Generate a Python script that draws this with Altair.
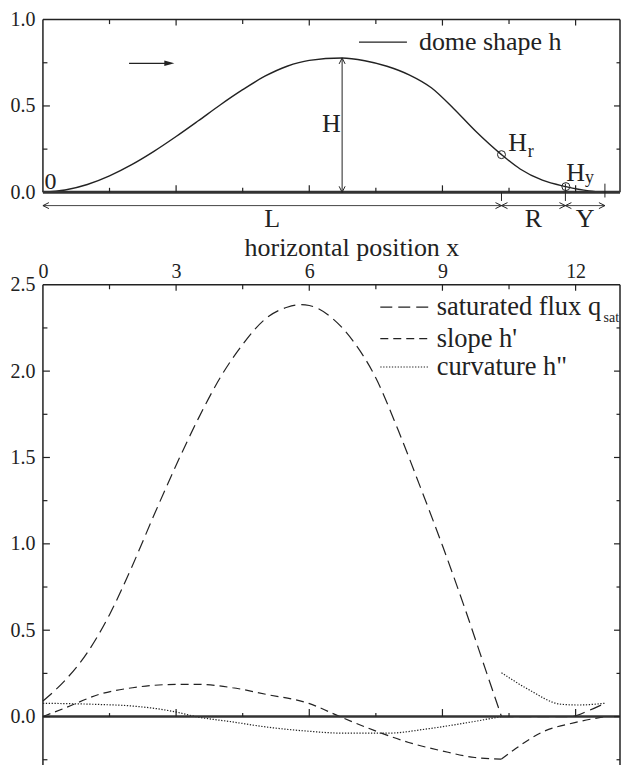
import altair as alt
import pandas as pd

FONT = "'Liberation Serif', 'Times New Roman', Times, serif"
INK = "#222222"

# ---------------- values ----------------
# dome shape h(x)
dome_x = [0.0, 0.5, 1.0, 1.5, 2.0, 2.5, 3.0, 3.5, 4.0, 4.5, 5.0, 5.5, 6.0, 6.74,
          7.25, 7.75, 8.25, 8.75, 9.25, 9.75, 10.33, 10.75, 11.25, 11.78, 12.3, 12.66]
dome_h = [0.0, 0.013, 0.045, 0.095, 0.16, 0.237, 0.323, 0.414, 0.507, 0.594, 0.672,
          0.73, 0.764, 0.778, 0.762, 0.73, 0.68, 0.605, 0.485, 0.353, 0.218, 0.135,
          0.07, 0.033, 0.008, 0.0]

# saturated flux q_sat
qsat_x = [0.0, 0.5, 1.0, 1.5, 2.0, 2.5, 3.0, 3.5, 4.0, 4.5, 5.0, 5.5, 5.8,
          6.0, 6.5, 7.0, 7.5, 8.0, 8.5, 9.0, 9.5, 10.0, 10.33]
qsat_y = [0.09, 0.21, 0.37, 0.59, 0.865, 1.165, 1.455, 1.725, 1.965, 2.155, 2.3,
          2.37, 2.385, 2.38, 2.31, 2.17, 1.96, 1.66, 1.33, 0.99, 0.63, 0.25, 0.0]
qsat_tail_x = [10.33, 11.0, 11.9, 12.3, 12.66]
qsat_tail_y = [0.0, 0.0, 0.0, 0.035, 0.077]

# slope h'
slope_x = [0.0, 0.52, 1.27, 2.02, 2.99, 3.52, 4.27, 5.02, 5.99, 6.74, 7.49, 8.24,
           8.98, 9.73, 10.33]
slope_y = [0.0, 0.052, 0.129, 0.167, 0.186, 0.186, 0.167, 0.129, 0.076, -0.006,
           -0.083, -0.15, -0.198, -0.237, -0.246]
slope_tail_x = [10.33, 10.63, 11.23, 11.98, 12.66]
slope_tail_y = [-0.246, -0.189, -0.092, -0.035, 0.0]

# curvature h''
curv_x = [0.0, 0.52, 1.27, 2.02, 2.99, 3.44, 4.27, 5.02, 5.99, 6.74, 7.79, 8.61,
          9.36, 10.33]
curv_y = [0.077, 0.075, 0.07, 0.061, 0.027, 0.0, -0.031, -0.06, -0.085, -0.096,
          -0.096, -0.073, -0.044, 0.0]
curv_tail_x = [10.33, 10.93, 11.68, 12.06, 12.66]
curv_tail_y = [0.254, 0.158, 0.071, 0.067, 0.077]

# zone boundaries along x: L = [0, x_r], R = [x_r, x_y], Y = [x_y, x_end]
x_r = 10.33
x_y = 11.77
x_end = 12.66
H_x = dome_x[dome_h.index(max(dome_h))]
H = max(dome_h)
H_r = dome_h[dome_x.index(x_r)]
H_y = dome_h[dome_x.index(11.78)]

x_major = [3, 6, 9, 12]
x_minor = [1.5, 4.5, 7.5, 10.5]

# ---------------- scales and axes ----------------
X_MAX = 13.0
W = 578
PX_X = W / X_MAX            # pixels per x unit
PX_Y = 173.0                # pixels per y unit (both panels)
TOP_H = 1.0 * PX_Y
BOT_LO, BOT_HI = -0.28, 2.5
BOT_H = (BOT_HI - BOT_LO) * PX_Y

XS = alt.Scale(domain=[0, X_MAX], nice=False, zero=False)
YS_TOP = alt.Scale(domain=[0, 1], nice=False, zero=False)
YS_BOT = alt.Scale(domain=[BOT_LO, BOT_HI], nice=False, zero=False)

# every layer of a panel carries the same axis definition so they merge cleanly
AX_Y_TOP = alt.Axis(values=[0, 0.5, 1.0], format=".1f", orient="left", title=None)
AX_Y_BOT = alt.Axis(values=[0, 0.5, 1.0, 1.5, 2.0, 2.5], format=".1f", orient="left",
                    title=None)
AX_X_BOT = alt.Axis(orient="top", values=[0, 3, 6, 9, 12], format="d",
                    labelFlush=False, labelPadding=3,
                    title="horizontal position x", titleX=309, titleY=-29.3,
                    titleAlign="center", titleBaseline="alphabetic")

PANELS = {
    "top": (YS_TOP, None, AX_Y_TOP),
    "bot": (YS_BOT, AX_X_BOT, AX_Y_BOT),
}

DASH = alt.Scale(
    domain=["qsat", "slope", "curv"],
    range=[[12, 6], [8, 5], [1.3, 1.6]],
)


def xf(panel, field="x"):
    ax = PANELS[panel][1]
    if ax is None:
        return alt.X(f"{field}:Q", scale=XS, axis=None)
    return alt.X(f"{field}:Q", scale=XS, axis=ax, title="horizontal position x")


def yf(panel, field="y"):
    return alt.Y(f"{field}:Q", scale=PANELS[panel][0], axis=PANELS[panel][2], title=None)


def hrules(rows, panel, width=1.5, color=INK):
    """Horizontal segments; rows are (y, x0, x1)."""
    df = pd.DataFrame(rows, columns=["y", "x", "x2"])
    return alt.Chart(df).mark_rule(color=color, strokeWidth=width).encode(
        x=xf(panel), x2=alt.X2("x2"), y=yf(panel))


def vrules(rows, panel, width=1.5, color=INK):
    """Vertical segments; rows are (x, y0, y1)."""
    df = pd.DataFrame(rows, columns=["x", "y", "y2"])
    return alt.Chart(df).mark_rule(color=color, strokeWidth=width).encode(
        x=xf(panel), y=yf(panel), y2=alt.Y2("y2"))


def edge_ticks(panel, y_hi, y_major, y_minor, base_major=7.0, base_minor=4.5):
    """Inward tick marks on the frame plus upward ticks on the zero line."""
    v = []
    for xs, n in ((x_major, 6.0), (x_minor, 4.5)):
        for x in xs:
            v.append((x, y_hi, y_hi - n / PX_Y))
    for xs, n in ((x_major, base_major), (x_minor, base_minor)):
        for x in xs:
            v.append((x, 0.0, n / PX_Y))
    h = []
    for ys, n, m in ((y_major, 7.0, 6.0), (y_minor, 4.5, 3.5)):
        for y in ys:
            h.append((y, 0.0, n / PX_X))
            h.append((y, X_MAX - m / PX_X, X_MAX))
    return [vrules(v, panel, width=1.2), hrules(h, panel, width=1.2)]


def label(x, y, text, panel, size=26, align="left", baseline="alphabetic"):
    return alt.Chart(pd.DataFrame({"x": [x], "y": [y], "t": [text]})).mark_text(
        font=FONT, fontSize=size, color=INK, align=align, baseline=baseline
    ).encode(x=xf(panel), y=yf(panel), text="t:N")


ARROW_PATHS = {
    "l": "M1,-0.5L0,0L1,0.5",
    "r": "M-1,-0.5L0,0L-1,0.5",
    "u": "M-0.5,1L0,0L0.5,1",
    "d": "M-0.5,-1L0,0L0.5,-1",
}


def arrowheads(xs, ys, dirs, panel):
    df = pd.DataFrame({"x": xs, "y": ys, "d": dirs})
    return alt.Chart(df).mark_point(
        filled=False, color=INK, strokeWidth=1, size=144, opacity=1
    ).encode(
        x=xf(panel), y=yf(panel),
        shape=alt.Shape("d:N", scale=alt.Scale(domain=list(ARROW_PATHS),
                                               range=list(ARROW_PATHS.values())),
                        legend=None),
    )


# ---------------- top panel: dome shape ----------------
dome_df = pd.DataFrame({"x": dome_x, "y": dome_h})
dome_line = alt.Chart(dome_df).mark_line(
    color=INK, strokeWidth=1.4, interpolate="monotone"
).encode(x=xf("top"), y=yf("top"))

dim_y = -0.077
top_layers = [
    dome_line,
    # frame
    vrules([(0, 0, 1), (X_MAX, 0, 1)], "top"),
    hrules([(1, 0, X_MAX)], "top"),
    hrules([(0, 0, X_MAX)], "top", width=3, color="#333333"),
    *edge_ticks("top", 1, [0.5], [0.25, 0.75]),
    # flow direction arrow
    hrules([(0.747, 1.94, 2.8)], "top", width=1.3),
    alt.Chart(pd.DataFrame({"x": [2.96], "y": [0.747]})).mark_point(
        shape="M0,0L-1,-0.28L-1,0.28Z", filled=True, size=400, color=INK, opacity=1
    ).encode(x=xf("top"), y=yf("top")),
    # height H
    vrules([(H_x, 0, H)], "top", width=1),
    arrowheads([H_x, H_x], [0, H], ["d", "u"], "top"),
    label(H_x - 0.03, 0.347, "H", "top", align="right"),
    # zone dimension line
    hrules([(dim_y, 0, x_end)], "top", width=1, color="#444444"),
    arrowheads([0, x_r, x_r, x_y, x_y, x_end], [dim_y] * 6,
               ["l", "r", "l", "r", "l", "r"], "top"),
    vrules([(x_r, 0, -0.05), (x_y, 0.05, -0.05), (x_end, 0.05, -0.03)], "top", width=1),
    label(x_r / 2, -0.203, "L", "top", align="center"),
    label((x_r + x_y) / 2, -0.203, "R", "top", align="center"),
    label((x_y + x_end) / 2, -0.203, "Y", "top", align="center"),
    # marked heights
    alt.Chart(pd.DataFrame({"x": [x_r, 11.78], "y": [H_r, H_y]})).mark_point(
        shape="circle", filled=False, size=64, color=INK, strokeWidth=1, opacity=1
    ).encode(x=xf("top"), y=yf("top")),
    label(10.48, 0.241, "H", "top"), label(10.92, 0.203, "r", "top", size=18),
    label(11.79, 0.068, "H", "top"), label(12.21, 0.053, "y", "top", size=18),
    label(0.034, 0.02, "0", "top", size=24),
    # legend
    hrules([(0.869, 7.12, 8.2)], "top", width=1.3),
    label(8.47, 0.869, "dome shape h", "top", baseline="middle"),
]
top = alt.layer(*top_layers).properties(width=W, height=TOP_H)


# ---------------- bottom panel: flux, slope, curvature ----------------
def series(xs, ys, name, seg):
    return pd.DataFrame({"x": xs, "y": ys, "series": name, "seg": f"{name}{seg}"})


curves = pd.concat([
    series(qsat_x, qsat_y, "qsat", 0), series(qsat_tail_x, qsat_tail_y, "qsat", 1),
    series(slope_x, slope_y, "slope", 0), series(slope_tail_x, slope_tail_y, "slope", 1),
    series(curv_x, curv_y, "curv", 0), series(curv_tail_x, curv_tail_y, "curv", 1),
], ignore_index=True)

curve_lines = alt.Chart(curves).mark_line(
    color=INK, strokeWidth=1.2, interpolate="monotone"
).encode(
    x=xf("bot"), y=yf("bot"),
    strokeDash=alt.StrokeDash("series:N", scale=DASH, legend=None),
    detail="seg:N",
)

legend_df = pd.DataFrame({
    "x": [7.6, 7.6, 7.6], "x2": [8.69, 8.69, 8.69],
    "y": [2.371, 2.188, 2.024], "series": ["qsat", "slope", "curv"],
})
legend_rules = alt.Chart(legend_df).mark_rule(color=INK, strokeWidth=1.2).encode(
    x=xf("bot"), x2=alt.X2("x2"), y=yf("bot"),
    strokeDash=alt.StrokeDash("series:N", scale=DASH, legend=None),
)

bottom_layers = [
    curve_lines,
    vrules([(0, BOT_LO, BOT_HI), (X_MAX, BOT_LO, BOT_HI)], "bot"),
    hrules([(BOT_HI, 0, X_MAX)], "bot"),
    hrules([(0, 0, X_MAX)], "bot", width=2.5, color="#333333"),
    *edge_ticks("bot", BOT_HI, [0, 0.5, 1.0, 1.5, 2.0],
                [-0.25, 0.25, 0.75, 1.25, 1.75, 2.25], base_major=7.5, base_minor=3.5),
    legend_rules,
    label(8.87, 2.371, "saturated flux q", "bot", size=26.5, baseline="middle"),
    label(12.63, 2.284, "sat", "bot", size=14),
    label(8.87, 2.188, "slope h'", "bot", size=26.5, baseline="middle"),
    label(8.87, 2.024, "curvature h\"", "bot", size=26.5, baseline="middle"),
]
bottom = alt.layer(*bottom_layers).properties(width=W, height=BOT_H)

chart = alt.vconcat(top, bottom, spacing=92.6, bounds="flush").properties(
    padding={"left": 10, "top": 9, "right": 0, "bottom": 0}
).configure_view(stroke=None).configure_axis(
    domain=False, ticks=False, tickSize=0, grid=False,
    labelFont=FONT, labelFontSize=20, labelColor=INK, labelPadding=8,
    titleFont=FONT, titleFontSize=26, titleColor=INK, titleFontWeight="normal",
)

chart.save("out.html", embed_options={"renderer": "svg", "actions": False})
